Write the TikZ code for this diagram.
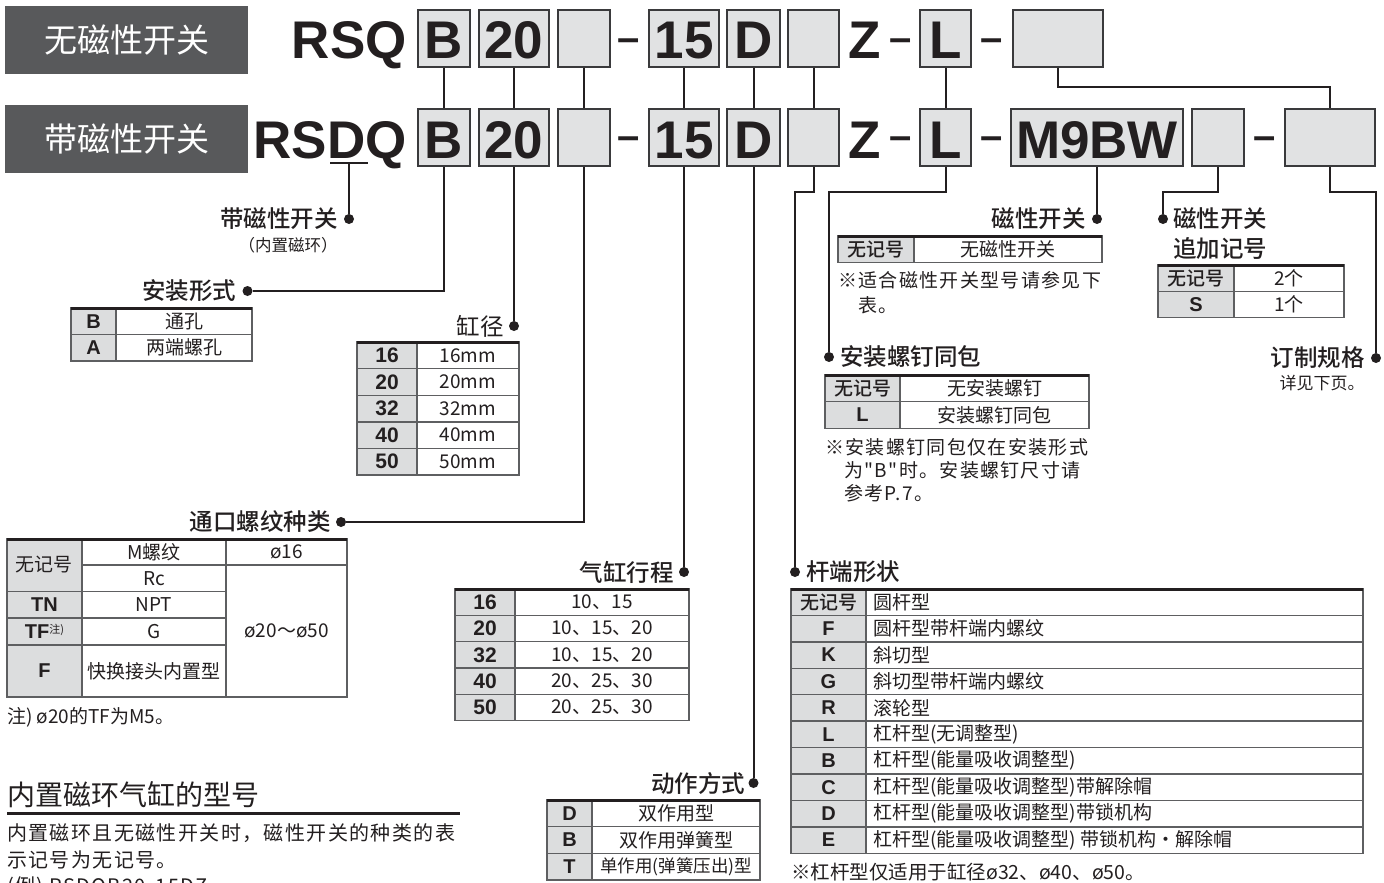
\documentclass[tikz,border=0pt]{standalone}
\usepackage{fontspec}
\setmainfont{Noto Sans CJK SC}[BoldFont={Noto Sans CJK SC Medium}]
\newfontfamily\arialfont{Liberation Sans}
\newfontfamily\spacedfont{Noto Sans CJK SC}[LetterSpace=7]
\usetikzlibrary{positioning}
\newcommand\fsz[1]{\fontsize{#1}{#1}\selectfont}
\definecolor{ink}{HTML}{231F20}
\definecolor{hdrc}{HTML}{58595B}
\definecolor{boxfill}{HTML}{E1E2E3}
\definecolor{boxline}{HTML}{3A3A3C}
\definecolor{cellfill}{HTML}{DCDDDE}
\definecolor{gridc}{HTML}{5E5F61}

\begin{document}
\begin{tikzpicture}[x=1pt,y=-1pt,
    hdr/.style={fill=hdrc, text=white, minimum width=243pt, minimum height=68pt, inner sep=0, font=\fsz{33}},
    codebox/.style={draw=boxline, line width=2pt, fill=boxfill, minimum height=57pt, inner sep=0, text height=41pt, text depth=0pt, font=\arialfont\bfseries\fsz{53}, text=ink},
    codetxt/.style={inner sep=0, font=\arialfont\bfseries\fsz{53}, text=ink, anchor=base},
    dashtxt/.style={inner sep=0, font=\arialfont\bfseries\fsz{40}, text=ink, anchor=base},
    dot/.style={circle, fill=ink, minimum size=10pt, inner sep=0},
    link/.style={draw=ink, line width=2pt},
    lbl/.style={inner sep=0, font=\bfseries\fsz{23.5}, text=ink},
    grid/.style={draw=gridc, line width=1.4pt},
    toprule/.style={draw=ink, line width=3pt},
    tc/.style={inner sep=0, font=\fsz{19}, text=ink},
    tcode/.style={inner sep=0, font=\arialfont\bfseries\fsz{20}, text=ink},
    tnum/.style={inner sep=0, font=\arialfont\bfseries\fsz{21}, text=ink},
    note/.style={inner sep=0, font=\spacedfont\fsz{19}, text=ink, anchor=west}]
    \clip (0,0) rectangle (1384,883);
    \fill[white] (0,0) rectangle (1384,883);

    \node[hdr] (h1) at (126.5,40) {无磁性开关};
    \node[hdr] (h2) at (126.5,139) {带磁性开关};

    \node[codetxt, anchor=base east] (rsq) at (407,59) {RSQ};
    \node[codetxt, anchor=base east] (rsdq) at (407,158) {RSDQ};
    \draw[link] (330,163) -- (368,163);
    \coordinate (ud) at (349,164);

    \node[codebox, minimum width=52pt] (b1) at (444,38.5) {B};
    \node[codebox, minimum width=70pt] (c1) at (514,38.5) {20};
    \node[codebox, minimum width=52pt] (e1) at (584,38.5) {};
    \node[codebox, minimum width=70pt] (s1) at (684,38.5) {15};
    \node[codebox, minimum width=53pt] (dd1) at (753.5,38.5) {D};
    \node[codebox, minimum width=51pt] (f1) at (813.5,38.5) {};
    \node[codebox, minimum width=51pt] (l1) at (945.5,38.5) {L};
    \node[codebox, minimum width=90pt] (x1) at (1058,38.5) {};
    \node[codetxt] (z1) at (864.5,59) {Z};
    \node[dashtxt] at (629,52) {–};
    \node[dashtxt] at (900.5,52) {–};
    \node[dashtxt] at (991.5,52) {–};

    \node[codebox, minimum width=52pt] (b2) at (444,137.5) {B};
    \node[codebox, minimum width=70pt] (c2) at (514,137.5) {20};
    \node[codebox, minimum width=52pt] (e2) at (584,137.5) {};
    \node[codebox, minimum width=70pt] (s2) at (684,137.5) {15};
    \node[codebox, minimum width=53pt] (dd2) at (753.5,137.5) {D};
    \node[codebox, minimum width=51pt] (f2) at (813.5,137.5) {};
    \node[codebox, minimum width=51pt] (l2) at (945.5,137.5) {L};
    \node[codebox, minimum width=172pt] (m2) at (1097,137.5) {M9BW};
    \node[codebox, minimum width=52pt] (n2) at (1218,137.5) {};
    \node[codebox, minimum width=90pt] (x2) at (1330,137.5) {};
    \node[codetxt] (z2) at (864.5,158) {Z};
    \node[dashtxt] at (629,149) {–};
    \node[dashtxt] at (900.5,149) {–};
    \node[dashtxt] at (991.5,149) {–};
    \node[dashtxt] at (1265,149) {–};

    \foreach \a/\b in {b1/b2,c1/c2,e1/e2,s1/s2,dd1/dd2,f1/f2,l1/l2}
        \draw[link] (\a.south) -- (\b.north);
    \draw[link] (x1.south) -- ++(0,19) -| (x2.north);

    \node[dot] (dmag) at (349,219) {};
    \node[lbl, left=6pt of dmag] (lmag) {带磁性开关};
    \node[inner sep=0, font=\fsz{16.5}, text=ink, below=7pt of lmag.south east, anchor=north east] {（内置磁环）};
    \node[dot] (dmnt) at (247.5,291) {};
    \node[lbl, left=6pt of dmnt] (lmnt) {安装形式};
    \node[dot] (dbore) at (514,326) {};
    \node[lbl, font=\fsz{23.5}, left=5pt of dbore] (lbore) {缸径};
    \node[dot] (dport) at (341,522) {};
    \node[lbl, left=5pt of dport] (lport) {通口螺纹种类};
    \node[dot] (dstroke) at (684,572) {};
    \node[lbl, left=5pt of dstroke] (lstroke) {气缸行程};
    \node[dot] (dact) at (753.5,783) {};
    \node[lbl, left=3pt of dact] (lact) {动作方式};
    \node[dot] (drod) at (795,572) {};
    \node[lbl, right=6pt of drod] (lrod) {杆端形状};
    \node[dot] (dsw) at (1097,219) {};
    \node[lbl, left=6pt of dsw] (lsw) {磁性开关};
    \node[dot] (dscr) at (829,357) {};
    \node[lbl, right=6pt of dscr] (lscr) {安装螺钉同包};
    \node[dot] (dnum) at (1163,219) {};
    \node[lbl, right=5pt of dnum] (lnum) {磁性开关};
    \node[lbl, below=7pt of lnum.south west, anchor=north west] {追加记号};
    \node[dot] (dcus) at (1376,358) {};
    \node[lbl, left=6pt of dcus] (lcus) {订制规格};
    \node[inner sep=0, font=\fsz{17}, text=ink, below=6pt of lcus.south east, anchor=north east] {详见下页。};

    \draw[link] (ud) -- (dmag);
    \draw[link] (b2.south) |- (dmnt);
    \draw[link] (c2.south) -- (dbore);
    \draw[link] (e2.south) |- (dport);
    \draw[link] (s2.south) -- (dstroke);
    \draw[link] (dd2.south) -- (dact);
    \draw[link] (f2.south) -- ++(0,25) -| (drod);
    \draw[link] (l2.south) -- ++(0,25) -| (dscr);
    \draw[link] (m2.south) -- (dsw);
    \draw[link] (n2.south) -- ++(0,25) -| (dnum);
    \draw[link] (x2.south) -- ++(0,25) -| (dcus);

    \fill[cellfill] (71,308) rectangle (116,361);
    \foreach \c/\t [count=\i from 0] in {B/通孔,A/两端螺孔} {
        \draw[grid] (71,{308+26.5*\i}) rectangle (116,{334.5+26.5*\i}) rectangle (252,{308+26.5*\i});
        \node[tcode] at (93.5,{321.25+26.5*\i}) {\c};
        \node[tc] at (184,{321.25+26.5*\i}) {\t};
    }
    \draw[toprule] (71,308) -- (252,308);

    \fill[cellfill] (357,342) rectangle (417,475);
    \foreach \c/\t [count=\i from 0] in {16/16mm,20/20mm,32/32mm,40/40mm,50/50mm} {
        \draw[grid] (357,{342+26.6*\i}) rectangle (417,{368.6+26.6*\i}) rectangle (519,{342+26.6*\i});
        \node[tnum] at (387,{355.3+26.6*\i}) {\c};
        \node[tc] at (468,{355.3+26.6*\i}) {\t};
    }
    \draw[toprule] (357,342) -- (519,342);

    \fill[cellfill] (7,539) rectangle (82,697);
    \draw[grid] (7,539) rectangle (347,697);
    \draw[grid] (82,539) -- (82,697) (226,539) -- (226,697);
    \draw[grid] (82,565) -- (347,565);
    \draw[grid] (7,591.7) -- (226,591.7) (7,618) -- (226,618) (7,645) -- (226,645);
    \draw[toprule] (7,539) -- (347,539);
    \node[tc] at (44.5,565) {无记号};
    \node[tc] at (154,552) {M螺纹};
    \node[tc] at (286.5,552) {ø16};
    \node[tc] at (154,578.3) {Rc};
    \node[tcode] at (44.5,605) {TN};
    \node[tc] at (154,605) {NPT};
    \node[tcode] at (44.5,631.5) {TF\raisebox{5pt}{\rmfamily\mdseries\fsz{11}注)}};
    \node[tc] at (154,631.5) {G};
    \node[tcode] at (44.5,671) {F};
    \node[tc] at (154,671) {快换接头内置型};
    \node[tc] at (286.5,631) {ø20～ø50};
    \node[tc, anchor=west] at (7,717) {注) ø20的TF为M5。};

    \fill[cellfill] (455,589) rectangle (515,720.7);
    \foreach \c/\t [count=\i from 0] in {16/10、15,20/10、15、20,32/10、15、20,40/20、25、30,50/20、25、30} {
        \draw[grid] (455,{589+26.34*\i}) rectangle (515,{615.34+26.34*\i}) rectangle (689,{589+26.34*\i});
        \node[tnum] at (485,{602.2+26.34*\i}) {\c};
        \node[tc] at (602,{602.2+26.34*\i}) {\t};
    }
    \draw[toprule] (455,589) -- (689,589);

    \fill[cellfill] (547,800) rectangle (592,880);
    \foreach \c/\t [count=\i from 0] in {D/双作用型,B/双作用弹簧型,T/{\fsz{17.5}单作用(弹簧压出)型}} {
        \draw[grid] (547,{800+26.67*\i}) rectangle (592,{826.67+26.67*\i}) rectangle (760,{800+26.67*\i});
        \node[tcode] at (569.5,{813.3+26.67*\i}) {\c};
        \node[tc] at (676,{813.3+26.67*\i}) {\t};
    }
    \draw[toprule] (547,800) -- (760,800);

    \fill[cellfill] (791,589) rectangle (866,853.3);
    \foreach \c/\t [count=\i from 0] in {{\rmfamily\fsz{19}无记号}/圆杆型,F/圆杆型带杆端内螺纹,K/斜切型,G/斜切型带杆端内螺纹,R/滚轮型,L/杠杆型(无调整型),B/杠杆型(能量吸收调整型),C/杠杆型(能量吸收调整型)带解除帽,D/杠杆型(能量吸收调整型)带锁机构,E/杠杆型(能量吸收调整型) 带锁机构・解除帽} {
        \draw[grid] (791,{589+26.43*\i}) rectangle (866,{615.43+26.43*\i}) rectangle (1363,{589+26.43*\i});
        \node[tcode] at (828.5,{602.2+26.43*\i}) {\c};
        \node[tc, anchor=west] at (873,{602.2+26.43*\i}) {\t};
    }
    \draw[toprule] (791,589) -- (1363,589);
    \node[tc, font=\fsz{19.5}, anchor=west] at (791,872) {※杠杆型仅适用于缸径ø32、ø40、ø50。};

    \fill[cellfill] (838,236) rectangle (914,262.3);
    \draw[grid] (838,236) rectangle (914,262.3) rectangle (1102,236);
    \draw[toprule] (838,236) -- (1102,236);
    \node[tc, font=\bfseries\fsz{19}] at (876,249.2) {无记号};
    \node[tc] at (1008,249.2) {无磁性开关};
    \node[note] at (838,280) {※适合磁性开关型号请参见下};
    \node[note] at (858,305) {表。};

    \fill[cellfill] (825,375) rectangle (900,428.3);
    \foreach \c/\t [count=\i from 0] in {{\rmfamily\fsz{19}无记号}/无安装螺钉,L/安装螺钉同包} {
        \draw[grid] (825,{375+26.65*\i}) rectangle (900,{401.65+26.65*\i}) rectangle (1089,{375+26.65*\i});
        \node[tcode] at (862.5,{388.3+26.65*\i}) {\c};
        \node[tc] at (994.5,{388.3+26.65*\i}) {\t};
    }
    \draw[toprule] (825,375) -- (1089,375);
    \node[note] at (825,447) {※安装螺钉同包仅在安装形式};
    \node[note] at (844,470) {为"B"时。安装螺钉尺寸请};
    \node[note] at (844,493) {参考P.7。};

    \fill[cellfill] (1158,265) rectangle (1234,317.7);
    \foreach \c/\t [count=\i from 0] in {{\rmfamily\fsz{19}无记号}/2个,S/1个} {
        \draw[grid] (1158,{265+26.35*\i}) rectangle (1234,{291.35+26.35*\i}) rectangle (1344,{265+26.35*\i});
        \node[tcode] at (1196,{278.2+26.35*\i}) {\c};
        \node[tc] at (1289,{278.2+26.35*\i}) {\t};
    }
    \draw[toprule] (1158,265) -- (1344,265);

    \node[inner sep=0, font=\fsz{28}, text=ink, anchor=west] (ttl) at (7,795) {内置磁环气缸的型号};
    \draw[ink, line width=3pt] (7,813) -- (460,813);
    \node[note, font=\spacedfont\fsz{20}] at (7,833) {内置磁环且无磁性开关时，磁性开关的种类的表};
    \node[note, font=\spacedfont\fsz{20}] at (7,860) {示记号为无记号。};
    \node[note, font=\spacedfont\fsz{20}, anchor=base west] at (7,893) {(例) RSDQB20-15DZ};
\end{tikzpicture}
\end{document}
